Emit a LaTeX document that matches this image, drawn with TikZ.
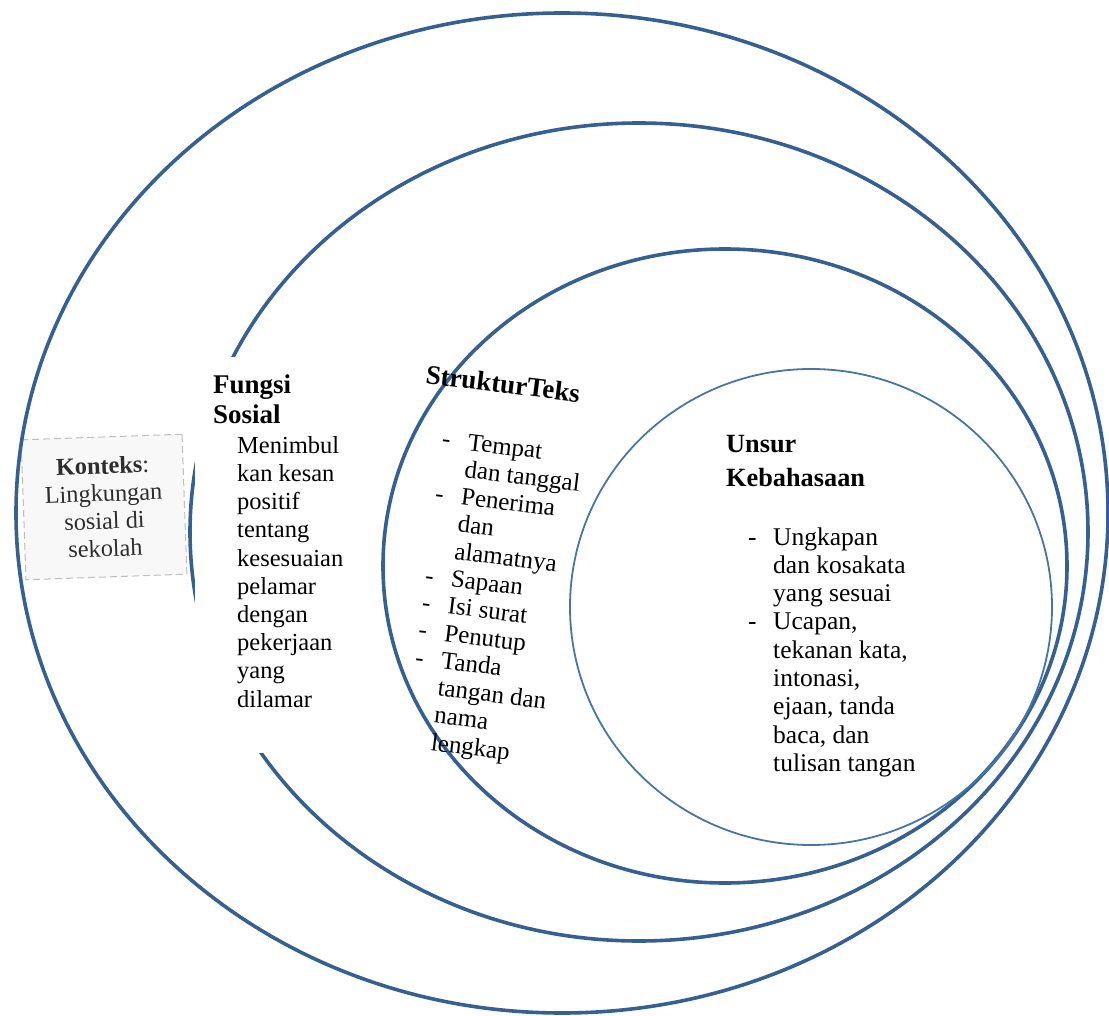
\documentclass[tikz,border=0pt]{standalone}
\usepackage{fontspec}
\setmainfont{Liberation Serif}
\definecolor{ringblue}{RGB}{55,96,146}
\definecolor{innerblue}{RGB}{72,117,164}
\definecolor{boxgray}{RGB}{190,190,190}
\definecolor{boxfill}{RGB}{248,248,248}
\definecolor{konteksgray}{RGB}{45,45,45}
\tikzset{
  ring/.style={draw=ringblue, line width=3.6pt},
  innerring/.style={draw=innerblue, line width=1.8pt},
  bodytext/.style={font=\fontsize{24.5}{28.2}\selectfont, align=left, inner sep=0pt, anchor=base west},
  listtext/.style={font=\fontsize{25}{27.5}\selectfont, align=left, inner sep=0pt, anchor=base west},
  headtext/.style={font=\bfseries\fontsize{27}{30}\selectfont, align=left, inner sep=0pt, anchor=base west},
  kontekbox/.style={draw=boxgray, line width=1pt, dash pattern=on 7pt off 4pt, fill=boxfill,
    minimum width=161pt, minimum height=140pt, inner sep=0pt, align=center,
    text=konteksgray, font=\fontsize{24.3}{27.6}\selectfont},
}
\begin{document}
\begin{tikzpicture}[x=1pt,y=-1pt]
\useasboundingbox (0,0) rectangle (1109,1016);
% Konteks box (behind rings)
\node[kontekbox, rotate=2] (konteks) at (104,507) {\textbf{Konteks}:\\Lingkungan\\sosial di\\sekolah};
% rings
\draw[ring] (562,513) ellipse [x radius=546pt, y radius=500pt];
\draw[ring] (639,532) ellipse [x radius=449pt, y radius=409pt];
\draw[ring] (725,566) ellipse [x radius=342pt, y radius=317pt];
\draw[innerring] (811,607) ellipse [x radius=241pt, y radius=238pt];
% white area of the Fungsi Sosial text box
\fill[white] (195,357) rectangle (375,753);
% Fungsi Sosial (anchors are on the last line's baseline)
\node[headtext] (fungsihead) at (213,423) {Fungsi\\Sosial};
\node[bodytext] (fungsibody) at (237,707) {Menimbul\\kan kesan\\positif\\tentang\\kesesuaian\\pelamar\\dengan\\pekerjaan\\yang\\dilamar};
% Struktur Teks (rotated block)
\begin{scope}[shift={(467,450)}, rotate=-7, transform shape]
  \node[headtext] (strukturhead) at (-50,-61) {StrukturTeks};
  \node[listtext] (strukturlist) at (-26,302.5) {\makebox[26pt][l]{-}Tempat\\
    \hspace*{26pt}dan tanggal\\
    \makebox[26pt][l]{-}Penerima\\
    \hspace*{26pt}dan\\
    \hspace*{26pt}alamatnya\\
    \makebox[26pt][l]{-}Sapaan\\
    \makebox[26pt][l]{-}Isi surat\\
    \makebox[26pt][l]{-}Penutup\\
    \makebox[26pt][l]{-}Tanda\\
    \hspace*{26pt}tangan dan\\
    \hspace*{26pt}nama\\
    \hspace*{26pt}lengkap};
\end{scope}
% Unsur Kebahasaan
\node[headtext, font=\bfseries\fontsize{26.3}{34}\selectfont] (unsurhead) at (726,486) {Unsur\\Kebahasaan};
\node[listtext, font=\fontsize{25.5}{28.3}\selectfont] (unsurlist) at (748,771.4) {\makebox[25pt][l]{-}Ungkapan\\
  \hspace*{25pt}dan kosakata\\
  \hspace*{25pt}yang sesuai\\
  \makebox[25pt][l]{-}Ucapan,\\
  \hspace*{25pt}tekanan kata,\\
  \hspace*{25pt}intonasi,\\
  \hspace*{25pt}ejaan, tanda\\
  \hspace*{25pt}baca, dan\\
  \hspace*{25pt}tulisan tangan};
\end{tikzpicture}
\end{document}
